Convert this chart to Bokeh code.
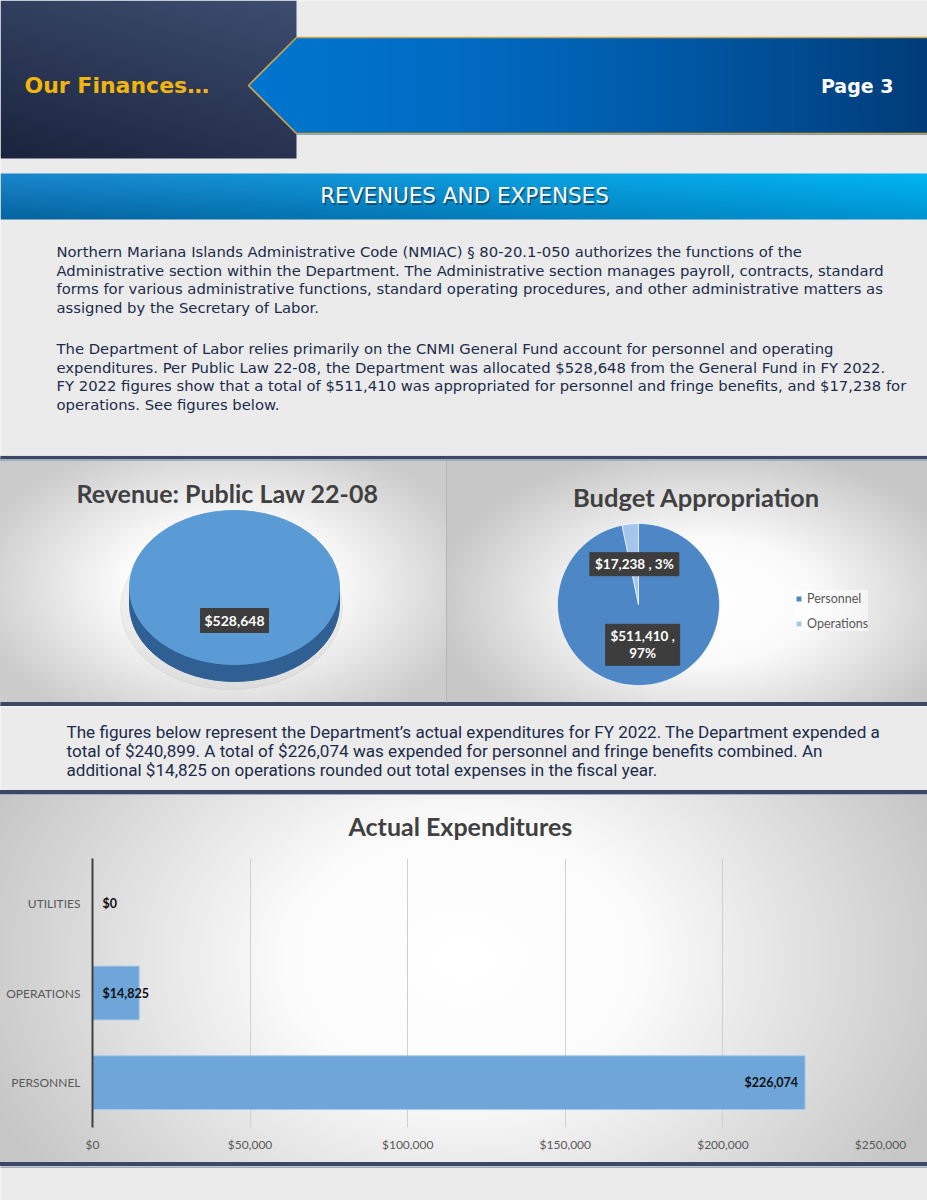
import numpy as np
from bokeh.plotting import figure
from bokeh.models import ColumnDataSource, Range1d, FactorRange, NumeralTickFormatter, FixedTicker
from bokeh.layouts import column
from bokeh.embed import file_html
from bokeh.resources import INLINE
from bokeh.core.properties import value

# ---------------- data ----------------
revenue_categories = ["General Fund"]
revenue_values = [528648]
budget_categories = ["Personnel", "Operations"]
budget_values = [511410, 17238]
budget_colors = ["#4e87c5", "#a5c6ea"]
expend_categories = ["PERSONNEL", "OPERATIONS", "UTILITIES"]
expend_values = [226074, 14825, 0]
expend_ticks = [0, 50000, 100000, 150000, 200000, 250000]

para1 = [
    "Northern Mariana Islands Administrative Code (NMIAC) § 80-20.1-050 authorizes the functions of the",
    "Administrative section within the Department. The Administrative section manages payroll, contracts, standard",
    "forms for various administrative functions, standard operating procedures, and other administrative matters as",
    "assigned by the Secretary of Labor.",
]
para2 = [
    "The Department of Labor relies primarily on the CNMI General Fund account for personnel and operating",
    "expenditures. Per Public Law 22-08, the Department was allocated $528,648 from the General Fund in FY 2022.",
    "FY 2022 figures show that a total of $511,410 was appropriated for personnel and fringe benefits, and $17,238 for",
    "operations. See figures below.",
]
para3 = [
    "The figures below represent the Department\u2019s actual expenditures for FY 2022. The Department expended a",
    "total of $240,899. A total of $226,074 was expended for personnel and fringe benefits combined. An",
    "additional $14,825 on operations rounded out total expenses in the fiscal year.",
]

W = 927
NAVY = "#3b4868"
PAGE = "#ebebeb"
TXT = "#1c2b4b"


def base_fig(top, height):
    p = figure(width=W, height=height, x_range=Range1d(0, W),
               y_range=Range1d(-(top + height), -top),
               output_backend="svg", toolbar_location=None,
               x_axis_type=None, y_axis_type=None, min_border=0,
               outline_line_color=None, frame_align=False)
    return p


def txt(p, x, y, s, size, color, font="DejaVu Sans", style="normal",
        align="left", baseline="middle", alpha=1.0):
    p.text(x=[x], y=[-y], text=[s], text_font=value(font),
           text_font_size=value(size), text_font_style=value(style),
           text_color=color, text_align=value(align),
           text_baseline=value(baseline), text_alpha=alpha)


def to_img(r, g, b, a):
    h, w = r.shape
    arr = np.empty((h, w, 4), dtype=np.uint8)
    arr[..., 0] = np.clip(r, 0, 255)
    arr[..., 1] = np.clip(g, 0, 255)
    arr[..., 2] = np.clip(b, 0, 255)
    arr[..., 3] = np.clip(a, 0, 255)
    return arr.view(np.uint32).reshape(h, w)[::-1].copy()


def interp3(t, pos, cols):
    cols = np.array(cols, dtype=float)
    return [np.interp(t, pos, cols[:, i]) for i in range(3)]


# ---------------- header ----------------
hdr = base_fig(0, 455)
hdr.background_fill_color = PAGE
hdr.border_fill_color = PAGE

# navy box
yy, xx = np.mgrid[0:158, 0:296].astype(float)
t = 0.35 * xx / 295 + 0.65 * (1 - yy / 157)
r, g, b = interp3(t, [0, 1], [(27, 36, 62), (62, 78, 112)])
hdr.image_rgba(image=[to_img(r, g, b, np.full_like(r, 255))], x=0, y=-158, dw=296, dh=158)

# banner
bh, bw = 97, W - 248
yy, xx = np.mgrid[0:bh, 0:bw].astype(float)
xr = 248 + xx + 0.5
yr = 37 + yy + 0.5
edge = 248 + np.abs(yr - 85)
al = np.clip(xr - edge + 0.5, 0, 1) * 255
r, g, b = interp3(xr, [248, 450, 640, 790, 927],
                  [(0, 118, 206), (0, 108, 196), (0, 92, 170), (0, 76, 146), (0, 60, 120)])
hdr.image_rgba(image=[to_img(r, g, b, al)], x=248, y=-(37 + bh), dw=bw, dh=bh)
hdr.line(x=[W, 296, 248, 296, W], y=[-37, -37, -85, -133, -133], line_color="#c9a44c", line_width=1.6)

txt(hdr, 24, 85, "Our Finances\u2026", "22px", "#f2b50c", style="bold")
txt(hdr, 893, 85, "Page 3", "19px", "white", style="bold", align="right")

# section title bar
th = 46
yy, xx = np.mgrid[0:th, 0:W].astype(float)
top_c = interp3(xx / (W - 1), [0, 1], [(26, 134, 204), (0, 182, 242)])
bot_c = interp3(xx / (W - 1), [0, 1], [(7, 100, 160), (0, 148, 210)])
ty = yy / (th - 1)
r, g, b = [top_c[i] * (1 - ty) + bot_c[i] * ty for i in range(3)]
hdr.image_rgba(image=[to_img(r, g, b, np.full_like(r, 255))], x=0, y=-(173 + th), dw=W, dh=th)
txt(hdr, 465.5, 196.5, "REVENUES AND EXPENSES", "21.5px", "#1a2a3a", align="center", alpha=0.6)
txt(hdr, 464, 195, "REVENUES AND EXPENSES", "21.5px", "white", align="center")

for i, line in enumerate(para1):
    txt(hdr, 56, 251 + i * 18.6, line, "14.8px", TXT)
for i, line in enumerate(para2):
    txt(hdr, 56, 348 + i * 18.5, line, "14.8px", TXT)

# ---------------- pies ----------------
pies = base_fig(455, 251)
pies.background_fill_alpha = 0
pies.border_fill_alpha = 0
pies.styles = {
    "background": (
        "radial-gradient(58% 62% at 51% 52%, #ffffff 0%, #fbfbfb 40%, #cbcbcb 100%) 0px 0px / 446px 100% no-repeat, "
        "radial-gradient(56% 62% at 54% 58%, #ffffff 0%, #fafafa 40%, #c7c7c7 100%) 446px 0px / 481px 100% no-repeat"
    )
}
pies.quad(left=0, right=W, top=-455, bottom=-456, color=PAGE)
pies.quad(left=0, right=W, top=-456, bottom=-459, color=NAVY)
pies.quad(left=0, right=W, top=-459, bottom=-460, color="#a3abbd")
pies.quad(left=0, right=W, top=-702, bottom=-706, color=NAVY)
pies.line(x=[446, 446], y=[-460, -702], line_color="#b5b5b5", line_width=1)

txt(pies, 227, 492, "Revenue: Public Law 22-08", "25px", "#404040", font="Lato", style="bold", align="center")
txt(pies, 696, 496, "Budget Appropriation", "25.5px", "#404040", font="Lato", style="bold", align="center")

# 3-D single-slice pie
rev_total = sum(revenue_values)
cx, cy, rx, ry, depth = 234, 587, 105, 77, 17
pies.ellipse(x=cx - 3, y=-(cy + depth + 3), width=2 * rx + 12, height=2 * ry + 10, color="#8a8a8a", alpha=0.10)
pies.ellipse(x=cx, y=-(cy + depth), width=2 * rx, height=2 * ry, color="#2f5f93")
pies.quad(left=cx - rx, right=cx + rx, top=-cy, bottom=-(cy + depth), color="#2f5f93")
pies.ellipse(x=cx, y=-cy, width=2 * rx, height=2 * ry, color="#5b9bd5")
pies.rect(x=cx, y=-620, width=68, height=24, color="#3d3d3d")
txt(pies, cx, 620, f"${rev_total:,}", "14px", "white", font="Lato", style="bold", align="center")

# 2-D pie
pcx, pcy, pr = 638, 604, 81
vals = np.array(budget_values, dtype=float)
frac = vals / vals.sum()
cum = np.concatenate([[0], np.cumsum(frac)])
start = np.pi / 2 - 2 * np.pi * cum[:-1]
end = np.pi / 2 - 2 * np.pi * cum[1:]
src = ColumnDataSource(dict(cat=budget_categories, start=start, end=end, color=budget_colors))
pies.wedge(x=pcx, y=-pcy, radius=pr, start_angle="start", end_angle="end", direction="clock",
           fill_color="color", line_color="white", line_width=0.6, source=src, legend_field="cat")
mid = (start + end) / 2
lx = pcx + 0.5 * pr * np.cos(mid)
ly = -pcy + 0.5 * pr * np.sin(mid)
pct = np.round(frac * 100).astype(int)
# Operations label (one line)
pies.rect(x=lx[1], y=ly[1], width=89, height=23, color="#3d3d3d")
pies.text(x=[lx[1]], y=[ly[1]], text=[f"${budget_values[1]:,} , {pct[1]}%"], text_font=value("Lato"),
          text_font_size=value("13.5px"), text_font_style=value("bold"), text_color="white",
          text_align=value("center"), text_baseline=value("middle"))
# Personnel label (wrapped)
pies.rect(x=lx[0], y=ly[0], width=74, height=41, color="#3d3d3d")
pies.text(x=[lx[0], lx[0]], y=[ly[0] + 8.5, ly[0] - 8.5],
          text=[f"${budget_values[0]:,} ,", f"{pct[0]}%"], text_font=value("Lato"),
          text_font_size=value("13.5px"), text_font_style=value("bold"), text_color="white",
          text_align=value("center"), text_baseline=value("middle"))

lg = pies.legend[0]
lg.location = (795, 75)
lg.glyph_width = 7
lg.glyph_height = 7
lg.label_text_font = "Lato"
lg.label_text_font_size = "12.5px"
lg.label_text_color = "#595959"
lg.label_height = 16
lg.label_standoff = 5
lg.spacing = 9
lg.padding = 6
lg.margin = 0
lg.border_line_color = None
lg.background_fill_color = "white"
lg.background_fill_alpha = 0.5

# ---------------- middle text ----------------
mid_f = base_fig(706, 84)
mid_f.background_fill_color = PAGE
mid_f.border_fill_color = PAGE
for i, line in enumerate(para3):
    txt(mid_f, 66, 731 + i * 19, line, "17.1px", TXT, font="Roboto")

# ---------------- bar chart ----------------
bf = figure(width=W, height=376, y_range=FactorRange(*expend_categories), x_range=Range1d(0, 250000),
            output_backend="svg", toolbar_location=None, title="Actual Expenditures",
            min_border_left=92, min_border_right=W - 880, min_border_top=68, min_border_bottom=39,
            outline_line_color=None, frame_align=False)
bf.background_fill_alpha = 0
bf.border_fill_alpha = 0
bf.styles = {
    "background": (
        "linear-gradient(to bottom, #3b4868 0px, #3b4868 4px, #a3abbd 4px, #a3abbd 5px, rgba(0,0,0,0) 5px, rgba(0,0,0,0) 372px, #3b4868 372px, #3b4868 376px), "
        "radial-gradient(55% 100% at 50% 45%, #ffffff 0%, #fbfbfb 35%, #c6c6c6 100%)"
    )
}
bf.title.text_font = "Lato"
bf.title.text_font_size = "25px"
bf.title.text_font_style = "bold"
bf.title.text_color = "#404040"
bf.title.align = "left"
bf.title.offset = 256
bf.title.standoff = 36

bsrc = ColumnDataSource(dict(cat=expend_categories, v=expend_values))
bf.hbar(y="cat", right="v", left=0, height=0.6, fill_color="#6ea6da", line_color="#a8cbeb",
        line_width=1, source=bsrc)

ev = np.array(expend_values)
big = ev >= 0.25 * ev.max()
lab = [f"${v:,}" for v in expend_values]
src_end = ColumnDataSource(dict(cat=[c for c, m in zip(expend_categories, big) if m],
                                v=[v for v, m in zip(expend_values, big) if m],
                                t=[s for s, m in zip(lab, big) if m]))
src_base = ColumnDataSource(dict(cat=[c for c, m in zip(expend_categories, big) if not m],
                                 v=[0 for m in big if not m],
                                 t=[s for s, m in zip(lab, big) if not m]))
bf.text(x="v", y="cat", text="t", source=src_end, text_align=value("right"), x_offset=-7,
        text_baseline=value("middle"), text_font=value("Lato"), text_font_size=value("12.5px"),
        text_font_style=value("bold"), text_color="#111111")
bf.text(x="v", y="cat", text="t", source=src_base, text_align=value("left"), x_offset=10,
        text_baseline=value("middle"), text_font=value("Lato"), text_font_size=value("12.5px"),
        text_font_style=value("bold"), text_color="#111111")

bf.xaxis.ticker = FixedTicker(ticks=expend_ticks)
bf.xaxis.formatter = NumeralTickFormatter(format="$0,0")
bf.xaxis.axis_line_color = None
bf.xaxis.major_tick_line_color = None
bf.xaxis.minor_tick_line_color = None
bf.xaxis.major_tick_out = 0
bf.xaxis.major_tick_in = 0
bf.xaxis.major_label_standoff = 9
bf.yaxis.axis_line_color = "#404040"
bf.yaxis.axis_line_width = 2
bf.yaxis.major_tick_line_color = None
bf.yaxis.minor_tick_line_color = None
bf.yaxis.major_tick_out = 0
bf.yaxis.major_tick_in = 0
bf.yaxis.major_label_standoff = 12
for ax in (bf.xaxis, bf.yaxis):
    ax.major_label_text_font = "Lato"
    ax.major_label_text_font_size = "12px"
    ax.major_label_text_color = "#595959"
bf.xgrid.grid_line_color = "#d0d0d0"
bf.xgrid.grid_line_width = 1
bf.ygrid.grid_line_color = None

# ---------------- bottom strip ----------------
bot = base_fig(1166, 34)
bot.background_fill_color = PAGE
bot.border_fill_color = PAGE
bot.quad(left=0, right=W, top=-1166, bottom=-1167, color="#a3abbd")

layout = column(hdr, pies, mid_f, bf, bot, spacing=0)
open("out.html", "w").write(file_html(layout, INLINE))
